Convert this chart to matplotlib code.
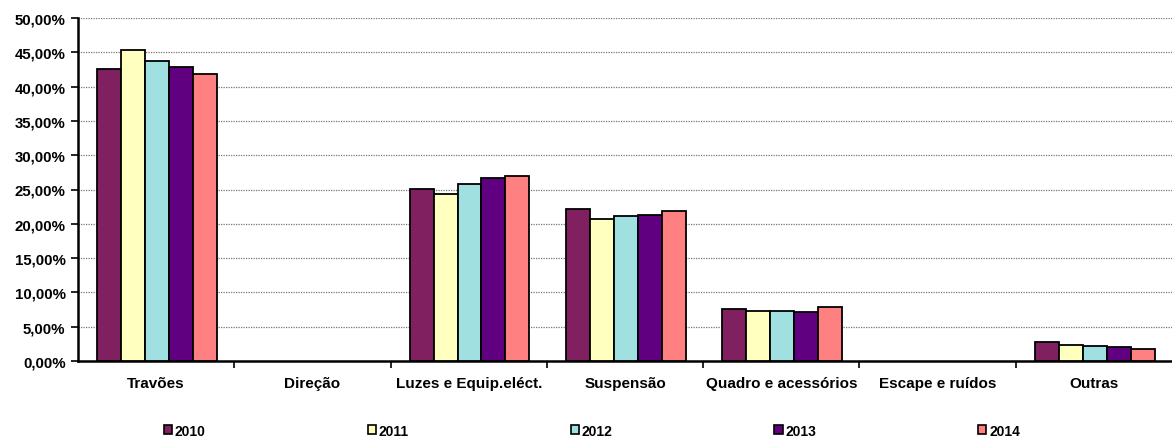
import matplotlib
matplotlib.use("Agg")
import matplotlib.pyplot as plt
import numpy as np
from matplotlib.ticker import FuncFormatter, MultipleLocator, FixedLocator

plt.rcParams['font.family'] = ['Liberation Sans', 'DejaVu Sans']

categories = ["Travões", "Direção", "Luzes e Equip.eléct.", "Suspensão",
              "Quadro e acessórios", "Escape e ruídos", "Outras"]
years = ["2010", "2011", "2012", "2013", "2014"]
v2010 = [42.6, 0.0, 25.1, 22.2, 7.6, 0.0, 2.8]
v2011 = [45.4, 0.0, 24.3, 20.7, 7.3, 0.0, 2.4]
v2012 = [43.7, 0.0, 25.8, 21.2, 7.3, 0.0, 2.2]
v2013 = [42.9, 0.0, 26.7, 21.3, 7.2, 0.0, 2.1]
v2014 = [41.9, 0.0, 26.9, 21.8, 7.9, 0.0, 1.7]
series = [v2010, v2011, v2012, v2013, v2014]
colors = ["#802060", "#FFFFC0", "#A0E0E0", "#600080", "#FF8080"]

W, H = 1172, 439
fig = plt.figure(figsize=(W / 100, H / 100), dpi=100)
ax = fig.add_axes([78 / W, (H - 362) / H, (1172 - 78) / W, (362 - 19) / H])

x = np.arange(len(categories))
bw = 0.1535
for i, (vals, c, y) in enumerate(zip(series, colors, years)):
    bars = ax.bar(x + (i - 2) * bw + 0.005, vals, width=bw, color=c, edgecolor="black",
                  linewidth=1.3, label=y, zorder=3)
    for b, v in zip(bars, vals):
        if v == 0:
            b.set_linewidth(0)

ax.set_xlim(-0.5, len(categories) - 0.5)
ax.set_ylim(0, 50)
ax.yaxis.set_major_locator(MultipleLocator(5))
ax.yaxis.set_major_formatter(FuncFormatter(lambda v, p: f"{v:.2f}%".replace(".", ",")))
ax.grid(axis="y", color="#777777", linestyle=(0, (1, 1)), linewidth=0.9, zorder=0)
ax.set_axisbelow(True)

ax.set_xticks(x)
ax.set_xticklabels(categories, fontsize=11, fontweight="bold")
ax.xaxis.set_minor_locator(FixedLocator(np.arange(0.5, len(categories) - 0.5, 1)))
ax.tick_params(axis="x", which="major", length=0, pad=11)
ax.tick_params(axis="x", which="minor", length=5, width=1.2, direction="out")
ax.tick_params(axis="y", length=5, width=1.2, direction="out", labelsize=10.8, pad=4)
for lab in ax.get_yticklabels():
    lab.set_fontweight("bold")

for s in ["top", "right"]:
    ax.spines[s].set_visible(False)
ax.spines["left"].set_linewidth(1.8)
ax.spines["bottom"].set_linewidth(1.8)

leg = fig.legend(loc="center", bbox_to_anchor=(0.505, 0.017), ncol=5, frameon=False,
                 prop={"size": 10, "weight": "bold"}, handlelength=0.6, handleheight=0.6,
                 handletextpad=0.2, columnspacing=11.65, borderaxespad=0)
for p in leg.get_patches():
    p.set_linewidth(1.2)

fig.savefig("out.png", dpi=100)
